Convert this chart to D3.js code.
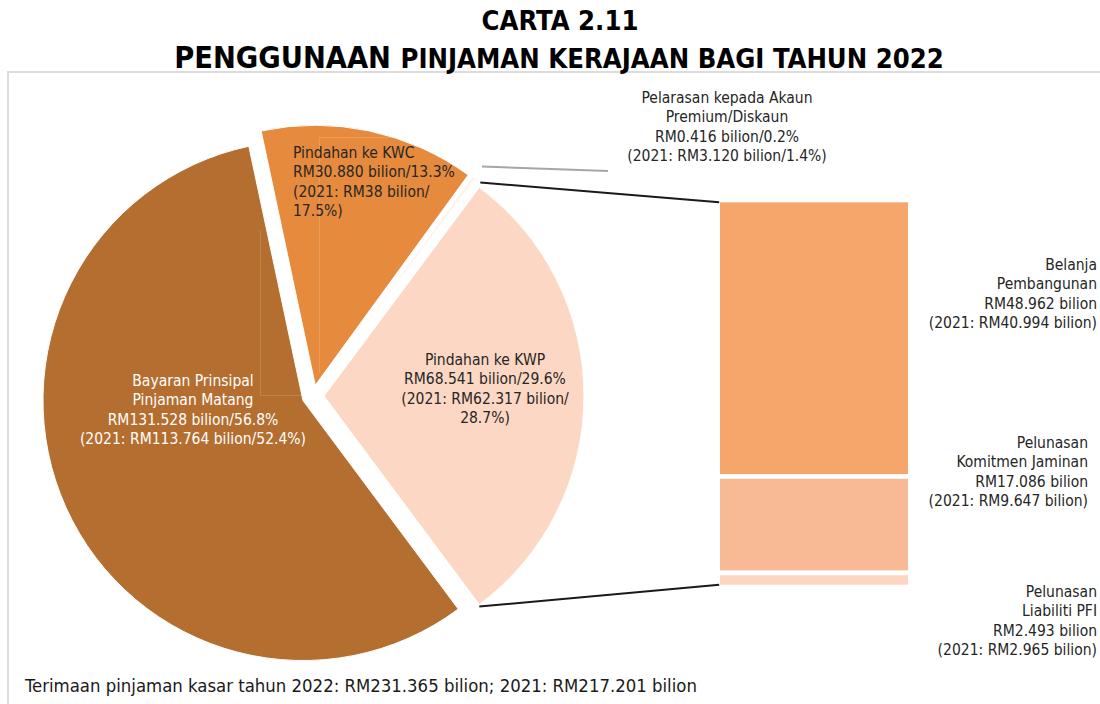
<!DOCTYPE html>
<html>
<head>
  <meta charset="utf-8">
  <title>Carta 2.11</title>
  <script src="https://d3js.org/d3.v7.min.js"></script>
  <style>
    body { margin: 0; background: #fff; }
    svg text {
      font-family: "DejaVu Sans Condensed", "DejaVu Sans", sans-serif;
      font-stretch: condensed;
    }
    .title { font-weight: bold; fill: #000; }
    .lbl { font-size: 15.5px; fill: #262626; }
    .lbl.light { fill: #fff; }
    .footer { font-size: 18.4px; fill: #1a1a1a; }
  </style>
</head>
<body>
  <svg id="chart" width="1100" height="704"></svg>

  <script>
    // ---- data ----
    const pieNames = ["Bayaran Prinsipal Pinjaman Matang", "Pindahan ke KWC",
                      "Pelarasan kepada Akaun Premium/Diskaun", "Pindahan ke KWP"];
    const pieValues = [131.528, 30.880, 0.416, 68.541];   // RM bilion, 2022
    const pieColors = ["#b46e30", "#e68a3d", "#fdf1e8", "#fcd7c4"];

    const pieLabelLines = [
      ["Bayaran Prinsipal", "Pinjaman Matang", "RM131.528 bilion/56.8%", "(2021: RM113.764 bilion/52.4%)"],
      ["Pindahan ke KWC", "RM30.880 bilion/13.3%", "(2021: RM38 bilion/", "17.5%)"],
      ["Pelarasan kepada Akaun", "Premium/Diskaun", "RM0.416 bilion/0.2%", "(2021: RM3.120 bilion/1.4%)"],
      ["Pindahan ke KWP", "RM68.541 bilion/29.6%", "(2021: RM62.317 bilion/", "28.7%)"]
    ];

    const barNames = ["Belanja Pembangunan", "Pelunasan Komitmen Jaminan", "Pelunasan Liabiliti PFI"];
    const barValues = [48.962, 17.086, 2.493];            // breakdown of Pindahan ke KWP
    const barColors = ["#f6a66a", "#f8b995", "#fcd6c2"];
    const barLabelLines = [
      ["Belanja", "Pembangunan", "RM48.962 bilion", "(2021: RM40.994 bilion)"],
      ["Pelunasan", "Komitmen Jaminan", "RM17.086 bilion", "(2021: RM9.647 bilion)"],
      ["Pelunasan", "Liabiliti PFI", "RM2.493 bilion", "(2021: RM2.965 bilion)"]
    ];

    const footerText = "Terimaan pinjaman kasar tahun 2022: RM231.365 bilion; 2021: RM217.201 bilion";

    // ---- layout ----
    const svg = d3.select("#chart");
    const cx = 313, cy = 396, R = 260, explode = 11;
    const lineH = 19.3;

    // chart area border
    svg.append("rect")
       .attr("x", 8).attr("y", 72).attr("width", 1120).attr("height", 700)
       .attr("fill", "none").attr("stroke", "#dcdcdc").attr("stroke-width", 2);

    // title
    svg.append("text").attr("class", "title")
       .attr("x", 560).attr("y", 30).attr("text-anchor", "middle")
       .style("font-size", "27.2px").text("CARTA 2.11");
    let t2 = svg.append("text").attr("class", "title")
       .attr("x", 559).attr("y", 68).attr("text-anchor", "middle");
    t2.append("tspan").style("font-size", "30.4px").text("PENGGUNAAN ");
    t2.append("tspan").style("font-size", "27.2px").text("PINJAMAN KERAJAAN BAGI TAHUN 2022");

    // ---- pie ----
    const total = d3.sum(pieValues);
    // the composite slice (last one) is centred on 3 o'clock, like Excel's pie-of-bar
    const start = Math.PI / 2 + Math.PI * pieValues[3] / total;
    const pie = d3.pie().sort(null).value(d => d)
                  .startAngle(start).endAngle(start + 2 * Math.PI);
    const arcs = pie(pieValues);
    const arc = d3.arc().innerRadius(0).outerRadius(R);

    const offset = d => {
      let m = (d.startAngle + d.endAngle) / 2;
      return [explode * Math.sin(m), -explode * Math.cos(m)];
    };

    const pieG = svg.append("g").attr("transform", `translate(${cx},${cy})`);
    pieG.selectAll("path.slice")
        .data(arcs)
        .join("path")
        .attr("class", "slice")
        .attr("transform", d => `translate(${offset(d)})`)
        .attr("d", arc)
        .attr("fill", (d, i) => pieColors[i])
        .attr("stroke", "#fff")
        .attr("stroke-width", 1);

    // faint label boxes left behind in the original
    const faint = svg.append("g").attr("fill", "none")
                     .attr("stroke", "#fff").attr("stroke-opacity", 0.15).attr("stroke-width", 1);
    faint.append("path").attr("d", "M393,137.5H319.5V373");
    faint.append("path").attr("d", "M260.5,230V395.5H305");

    // point on a slice's outer edge (after explosion), in page coords
    const edgePoint = (d, angle, r) => {
      let o = offset(d);
      return [cx + o[0] + r * Math.sin(angle), cy + o[1] - r * Math.cos(angle)];
    };

    // ---- bar of the composite slice ----
    const barSum = d3.sum(barValues);
    const yBar = d3.scaleLinear().domain([0, barSum]).range([587, 200]);
    const barX = 717.7, barW = 192.6;
    let cum = barSum;
    const stack = barValues.map(v => { let top = cum; cum -= v; return { top: top, bottom: cum }; });

    svg.selectAll("rect.seg")
       .data(stack)
       .join("rect")
       .attr("class", "seg")
       .attr("x", barX).attr("width", barW)
       .attr("y", d => yBar(d.top))
       .attr("height", d => yBar(d.bottom) - yBar(d.top))
       .attr("fill", (d, i) => barColors[i])
       .attr("stroke", "#fff").attr("stroke-width", 4.6);

    // connector lines from the composite slice to the bar
    const kwp = arcs[3];
    const p1 = edgePoint(kwp, kwp.startAngle, R);
    const p2 = edgePoint(kwp, kwp.endAngle, R);
    svg.append("line")
       .attr("x1", p1[0] + 1).attr("y1", p1[1] - 5)
       .attr("x2", barX + 1.5).attr("y2", yBar(barSum) + 2.3)
       .attr("stroke", "#1a1a1a").attr("stroke-width", 2);
    svg.append("line")
       .attr("x1", p2[0]).attr("y1", p2[1] + 2)
       .attr("x2", barX + 1.5).attr("y2", yBar(0) - 2.3)
       .attr("stroke", "#1a1a1a").attr("stroke-width", 2);

    // leader line of the tiny Pelarasan slice
    const pel = arcs[2];
    const pm = (pel.startAngle + pel.endAngle) / 2;
    const lp = edgePoint(pel, pm, R + 14);
    svg.append("line")
       .attr("x1", lp[0]).attr("y1", lp[1])
       .attr("x2", 608).attr("y2", 171)
       .attr("stroke", "#a6a6a6").attr("stroke-width", 2);

    // ---- labels ----
    function addLabel(lines, x, y, anchor, light) {
      let t = svg.append("text").attr("class", light ? "lbl light" : "lbl")
                 .attr("text-anchor", anchor);
      lines.forEach((s, i) => {
        t.append("tspan").attr("x", x).attr("y", y + i * lineH).text(s);
      });
    }
    addLabel(pieLabelLines[0], 193, 386, "middle", true);
    addLabel(pieLabelLines[1], 293, 158, "start", false);
    addLabel(pieLabelLines[2], 727, 103, "middle", false);
    addLabel(pieLabelLines[3], 485, 365, "middle", false);

    addLabel(barLabelLines[0], 1097, 270, "end", false);
    addLabel(barLabelLines[1], 1088, 448, "end", false);
    addLabel(barLabelLines[2], 1097, 597, "end", false);

    // footer note
    svg.append("text").attr("class", "footer")
       .attr("x", 25).attr("y", 692).text(footerText);
  </script>
</body>
</html>
